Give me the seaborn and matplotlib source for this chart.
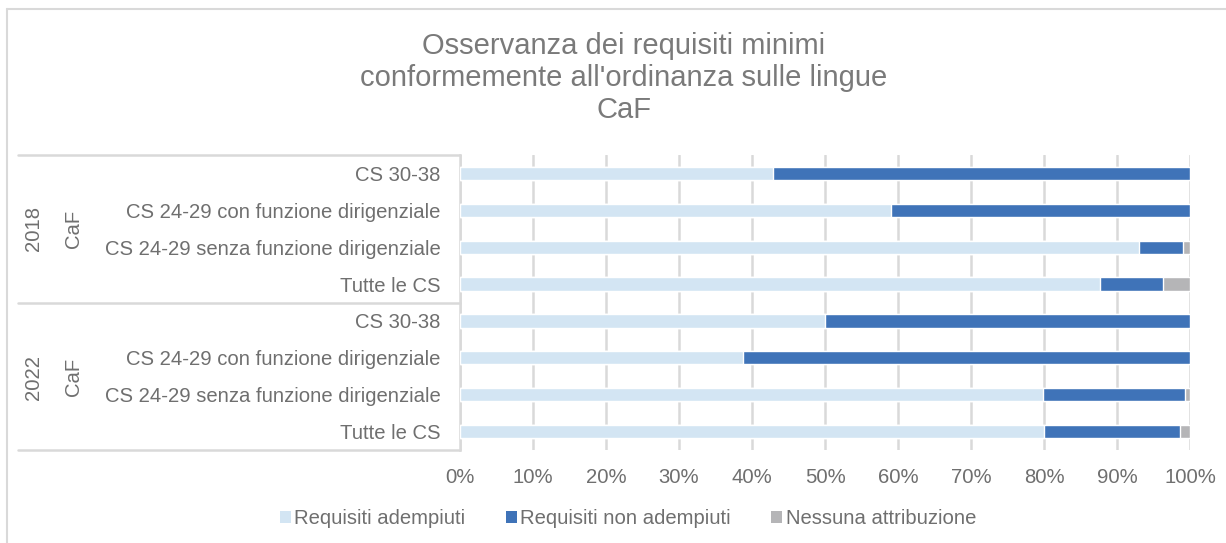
import matplotlib
matplotlib.use("Agg")
import matplotlib.pyplot as plt
from matplotlib.lines import Line2D
from matplotlib.patches import Patch
import seaborn as sns
import pandas as pd

# Data (percent)
years = ["2018", "2022"]
group = "CaF"
categories = ["CS 30-38", "CS 24-29 con funzione dirigenziale",
              "CS 24-29 senza funzione dirigenziale", "Tutte le CS"]
adempiuti_2018 = [42.9, 59.1, 93.0, 87.7]
non_adempiuti_2018 = [57.1, 40.9, 6.0, 8.6]
nessuna_2018 = [0.0, 0.0, 1.0, 3.7]
adempiuti_2022 = [50.0, 38.7, 79.8, 80.0]
non_adempiuti_2022 = [50.0, 61.3, 19.5, 18.6]
nessuna_2022 = [0.0, 0.0, 0.7, 1.4]

series_names = ["Requisiti adempiuti", "Requisiti non adempiuti", "Nessuna attribuzione"]
colors = ["#D3E5F3", "#3F73B8", "#B5B5B7"]
text_color = "#6F6F6F"
line_color = "#D9D9D9"

rows = []
for year, a, n, z in [("2018", adempiuti_2018, non_adempiuti_2018, nessuna_2018),
                      ("2022", adempiuti_2022, non_adempiuti_2022, nessuna_2022)]:
    for cat, va, vn, vz in zip(categories, a, n, z):
        rows.append({"key": f"{year}|{cat}", "Categoria": cat,
                     "c1": va, "c2": va + vn, "c3": va + vn + vz})
df = pd.DataFrame(rows)
order = list(df["key"])

sns.set_style("white")
plt.rcParams["font.family"] = ["Liberation Sans", "DejaVu Sans"]

W, H = 1226, 543
FS = 14.6
fig = plt.figure(figsize=(W / 100, H / 100), dpi=100)
ax = fig.add_axes([460 / W, 1 - 450 / H, 730 / W, 295 / H])

# stacked bars drawn as overlapping cumulative bars
for col, c in zip(["c3", "c2", "c1"], colors[::-1]):
    sns.barplot(data=df, x=col, y="key", order=order, orient="h", color=c,
                width=0.36, saturation=1, errorbar=None, ax=ax, zorder=3)

ax.set_xlim(0, 100)
ax.set_ylim(7.5, -0.5)
ax.set_xticks(range(0, 101, 10))
ax.set_xticklabels([f"{v}%" for v in range(0, 101, 10)])
ax.set_yticks(range(len(order)))
ax.set_yticklabels(list(df["Categoria"]))
ax.set_xlabel("")
ax.set_ylabel("")
ax.tick_params(axis="both", length=0, labelsize=FS, labelcolor=text_color)
ax.tick_params(axis="y", pad=14)
ax.tick_params(axis="x", pad=13)
ax.grid(axis="x", color=line_color, linewidth=1.8, zorder=0)
ax.set_axisbelow(True)
for s in ["top", "right", "bottom"]:
    ax.spines[s].set_visible(False)
ax.spines["left"].set_color(line_color)
ax.spines["left"].set_linewidth(1.8)


def fx(px):
    return px / W


def fy(py):
    return 1 - py / H


# left table lines
for yy in [155, 303, 450]:
    fig.add_artist(Line2D([fx(18), fx(460)], [fy(yy), fy(yy)],
                          color=line_color, linewidth=1.8))

# group labels
for year, yc in zip(years, [229, 377]):
    fig.text(fx(33), fy(yc), year, rotation=90, ha="center", va="center",
             fontsize=FS, color=text_color)
    fig.text(fx(73), fy(yc), group, rotation=90, ha="center", va="center",
             fontsize=FS, color=text_color)

# outer chart border
fig.add_artist(Line2D([fx(7), fx(W + 5)], [fy(8.5), fy(8.5)], color=line_color, linewidth=1.5))
fig.add_artist(Line2D([fx(7), fx(7)], [fy(8.5), fy(H + 5)], color=line_color, linewidth=1.5))

fig.text(fx(624), fy(78), "Osservanza dei requisiti minimi\nconformemente all'ordinanza sulle lingue\nCaF",
         ha="center", va="center", fontsize=21, color="#7A7A7A", linespacing=1.2)

handles = [Patch(facecolor=c, edgecolor="none") for c in colors]
fig.legend(handles, series_names, loc="center", bbox_to_anchor=(fx(628), fy(519)),
           ncol=3, frameon=False, fontsize=FS, labelcolor=text_color,
           handlelength=0.55, handleheight=0.55, handletextpad=0.15, columnspacing=2.0)

fig.savefig("out.png", dpi=100)
